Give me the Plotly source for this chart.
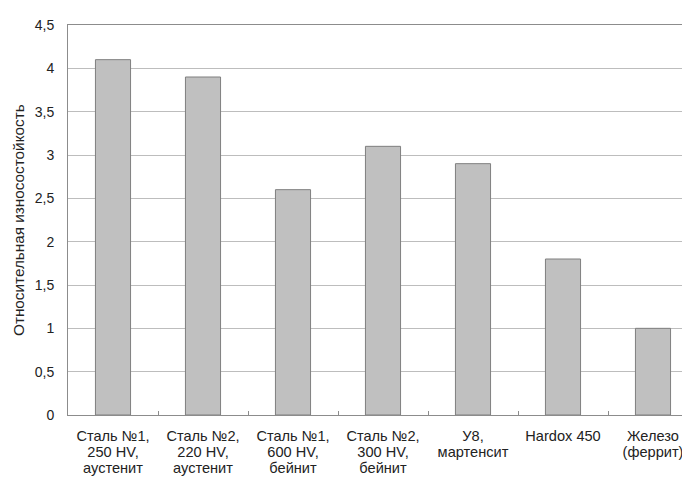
import plotly.graph_objects as go

label_lines = [
    ["Сталь №1,", "250 HV,", "аустенит"],
    ["Сталь №2,", "220 HV,", "аустенит"],
    ["Сталь №1,", "600 HV,", "бейнит"],
    ["Сталь №2,", "300 HV,", "бейнит"],
    ["У8,", "мартенсит"],
    ["Hardox 450"],
    ["Железо", "(феррит)"],
]
values = [4.1, 3.9, 2.6, 3.1, 2.9, 1.8, 1.0]
y_title = "Относительная износостойкость"

font_family = "Liberation Sans, Arial, sans-serif"
text_color = "#222222"

categories = [
    "<br>".join('<span style="font-size:14.6px">%s</span>' % s for s in lines)
    for lines in label_lines
]

fig = go.Figure(
    go.Bar(
        x=categories,
        y=values,
        width=0.39,
        marker=dict(color="#c0c0c0", line=dict(color="#7f7f7f", width=1)),
    )
)

fig.update_layout(
    width=682,
    height=470,
    margin=dict(l=60, r=0, t=17, b=63),
    paper_bgcolor="white",
    plot_bgcolor="white",
    separators=", ",
    showlegend=False,
    font=dict(family=font_family, size=13, color=text_color),
)

fig.update_xaxes(
    range=[-0.5, 6.5 - 8 / 90],
    showgrid=False,
    showline=True,
    mirror=True,
    linecolor="#8c8c8c",
    linewidth=1,
    ticks="inside",
    tickson="boundaries",
    ticklen=4,
    tickcolor="#8c8c8c",
    tickangle=0,
    ticklabelstandoff=10,
    tickfont=dict(family=font_family, size=12.3, color=text_color),
    fixedrange=True,
)

fig.update_yaxes(
    range=[0, 4.5],
    dtick=0.5,
    tick0=0,
    showgrid=True,
    gridcolor="#bdbdbd",
    gridwidth=1,
    showline=True,
    linecolor="#8c8c8c",
    linewidth=1,
    zeroline=False,
    ticks="",
    ticklabelstandoff=10,
    tickfont=dict(family=font_family, size=14, color=text_color),
    fixedrange=True,
)

fig.add_annotation(
    text=y_title,
    xref="paper",
    yref="paper",
    x=(18 - 68) / 622,
    y=0.5,
    xanchor="center",
    yanchor="middle",
    textangle=-90,
    showarrow=False,
    font=dict(family=font_family, size=15.3, color=text_color),
)

fig.write_html("out.html")
